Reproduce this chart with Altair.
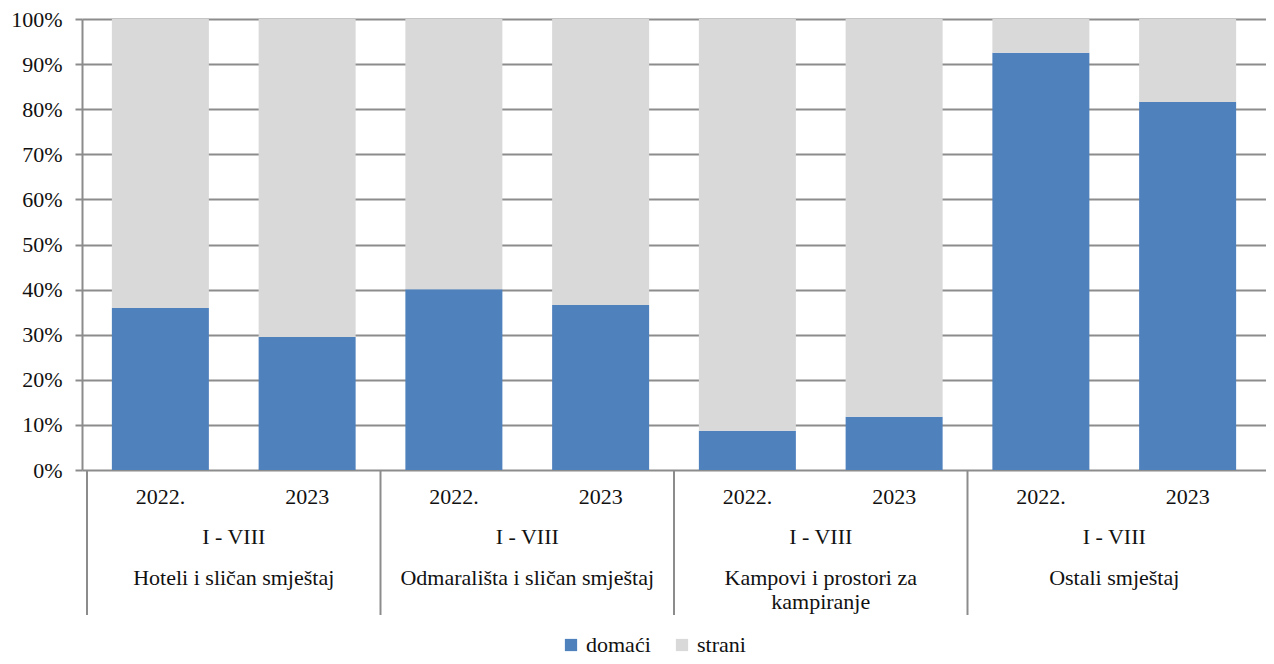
import altair as alt
import pandas as pd

categories = ["Hoteli i sličan smještaj", "Odmarališta i sličan smještaj",
              "Kampovi i prostori za\nkampiranje", "Ostali smještaj"]
years = ["2022.", "2023"]
period = "I - VIII"
series = ["domaći", "strani"]
domaci = [35.9, 29.5, 40.1, 36.6, 8.7, 11.8, 92.5, 81.6]
strani = [64.1, 70.5, 59.9, 63.4, 91.3, 88.2, 7.5, 18.4]
y_ticks = [0, 0.1, 0.2, 0.3, 0.4, 0.5, 0.6, 0.7, 0.8, 0.9, 1.0]

FONT = "Liberation Serif"
FS = 22
BLUE = "#4F81BD"
GRAY = "#D9D9D9"
LINE = "#8C8C8C"
W, H = 1184, 451

rows = []
bar_rows = []
for i in range(8):
    pos = i + 0.5
    bar_rows.append({"pos": pos, "year": years[i % 2]})
    rows.append({"pos": pos, "series": series[0], "value": domaci[i], "ord": 0})
    rows.append({"pos": pos, "series": series[1], "value": strani[i], "ord": 1})
df = pd.DataFrame(rows)
df_years = pd.DataFrame(bar_rows)
df_groups = pd.DataFrame({"pos": [2 * g + 1 for g in range(4)],
                          "cat": categories,
                          "period": [period] * 4})
df_sep = pd.DataFrame({"sep": [0, 2, 4, 6]})

xscale = alt.Scale(domain=[0, 8], nice=False, zero=False)

bars = alt.Chart(df).mark_bar(size=97).encode(
    x=alt.X("pos:Q", scale=xscale, axis=None),
    y=alt.Y("value:Q", stack="normalize",
            scale=alt.Scale(domain=[0, 1], nice=False),
            axis=alt.Axis(values=y_ticks, format=".0%", title=None,
                          grid=True, gridColor=LINE, gridWidth=2,
                          domainColor=LINE, domainWidth=2,
                          tickColor=LINE, tickWidth=2, tickSize=7,
                          labelPadding=13, labelFont=FONT, labelFontSize=FS,
                          labelColor="#111")),
    color=alt.Color("series:N",
                    scale=alt.Scale(domain=series, range=[BLUE, GRAY]),
                    legend=alt.Legend(orient="none", legendX=478, legendY=615,
                                      direction="horizontal", title=None,
                                      symbolType="square", symbolSize=150,
                                      symbolStrokeWidth=0,
                                      labelFont=FONT, labelFontSize=FS,
                                      labelColor="#111", columnPadding=20,
                                      labelOffset=4)),
    order=alt.Order("ord:Q"),
)

seps = alt.Chart(df_sep).mark_rule(color=LINE, strokeWidth=2).encode(
    x=alt.X("sep:Q", scale=xscale),
    y=alt.value(H),
    y2=alt.value(H + 145),
)

year_text = alt.Chart(df_years).mark_text(
    font=FONT, fontSize=FS, color="#111", baseline="middle").encode(
    x=alt.X("pos:Q", scale=xscale),
    y=alt.value(H + 27),
    text="year:N",
)

period_text = alt.Chart(df_groups).mark_text(
    font=FONT, fontSize=FS, color="#111", baseline="middle").encode(
    x=alt.X("pos:Q", scale=xscale),
    y=alt.value(H + 67),
    text="period:N",
)

cat_text = alt.Chart(df_groups).mark_text(
    font=FONT, fontSize=FS, color="#111", baseline="top",
    lineBreak="\n", lineHeight=24).encode(
    x=alt.X("pos:Q", scale=xscale),
    y=alt.value(H + 98),
    text="cat:N",
)

chart = alt.layer(bars, seps, year_text, period_text, cat_text).properties(
    width=W, height=H,
    autosize=alt.AutoSizeParams(type="none"),
    padding={"left": 74, "top": 11, "right": 0, "bottom": 186},
).configure_view(stroke=None)

chart.save("out.html", embed_options={"renderer": "svg", "actions": False})
